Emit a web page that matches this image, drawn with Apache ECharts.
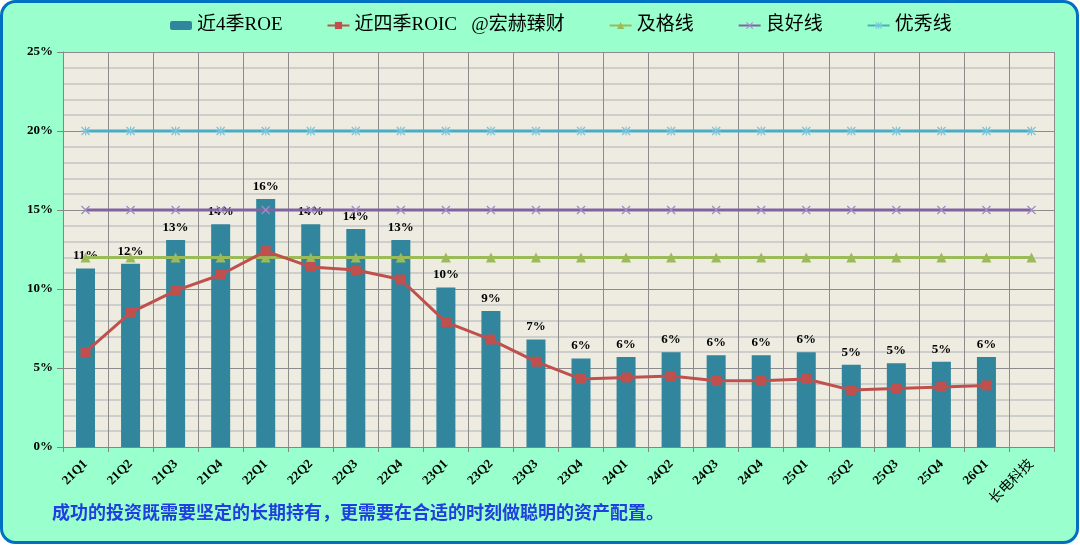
<!DOCTYPE html>
<html>
<head>
<meta charset="utf-8">
<script src="https://cdn.jsdelivr.net/npm/echarts@6/dist/echarts.min.js"></script>
<style>
    html, body { margin: 0; padding: 0; background: #ffffff; }
    #chart { width: 1080px; height: 545px; }
</style>
</head>
<body>
<div id="chart"></div>
<script>
// categories: quarters plus the company name as the last slot
var categories = ["21Q1", "21Q2", "21Q3", "21Q4", "22Q1", "22Q2", "22Q3", "22Q4",
    "23Q1", "23Q2", "23Q3", "23Q4", "24Q1", "24Q2", "24Q3", "24Q4",
    "25Q1", "25Q2", "25Q3", "25Q4", "26Q1", "长电科技"];

// values in percent
var roe = [11.3, 11.6, 13.1, 14.1, 15.7, 14.1, 13.8, 13.1, 10.1, 8.6, 6.8,
    5.6, 5.7, 6.0, 5.8, 5.8, 6.0, 5.2, 5.3, 5.4, 5.7, null];
var roic = [6.0, 8.5, 9.9, 10.9, 12.4, 11.4, 11.2, 10.6, 7.9, 6.8, 5.4,
    4.3, 4.4, 4.5, 4.2, 4.2, 4.3, 3.6, 3.7, 3.8, 3.9, null];
var passLine = 12;
var goodLine = 15;
var excellentLine = 20;

var yTicks = [0, 5, 10, 15, 20, 25];

function flat(v) {
    return categories.map(function () { return v; });
}

var serif = "'Liberation Serif', 'Noto Sans CJK SC', serif";
var xMark = "path://M0,1L1,0L5,4L9,0L10,1L6,5L10,9L9,10L5,6L1,10L0,9L4,5Z";
var starMark = "path://M0,1L1,0L4.4,3.4L4.4,0L5.6,0L5.6,3.4L9,0L10,1L6.4,4.4L10,4.4L10,5.6L6.4,5.6L10,9L9,10L5.6,6.6L5.6,10L4.4,10L4.4,6.6L1,10L0,9L3.6,5.6L0,5.6L0,4.4L3.6,4.4Z";

var option = {
    animation: false,
    backgroundColor: "#ffffff",
    graphic: [
        {
            type: "rect",
            z: -10,
            shape: { x: 1.5, y: 1.5, width: 1076, height: 541, r: 14 },
            style: { fill: "#99FFCC", stroke: "#0070C0", lineWidth: 3 }
        },
        {
            type: "text",
            left: 52,
            top: 505,
            style: {
                text: "成功的投资既需要坚定的长期持有，更需要在合适的时刻做聪明的资产配置。",
                fill: "#1F3FE0",
                font: "bold 18px " + serif
            }
        }
    ],
    legend: {
        top: 11,
        left: 165,
        itemGap: 44,
        itemWidth: 22,
        itemHeight: 9,
        textStyle: { fontFamily: serif, fontSize: 19, color: "#000" },
        data: ["近4季ROE", "近四季ROIC   @宏赫臻财", "及格线", "良好线", "优秀线"]
    },
    grid: { left: 63, right: 26, top: 52, bottom: 98, backgroundColor: "#EEECE1", show: true, borderWidth: 0 },
    xAxis: {
        type: "category",
        data: categories,
        axisLine: { lineStyle: { color: "#868686", width: 1 } },
        axisTick: { show: true, length: 5, lineStyle: { color: "#868686" } },
        splitLine: { show: true, interval: 0, lineStyle: { color: "#8c8c8c", width: 1 } },
        axisLabel: {
            interval: 0,
            rotate: 45,
            margin: 15,
            color: "#000",
            fontFamily: serif,
            fontSize: 13,
            fontWeight: "bold",
            formatter: function (v) {
                return /^\d/.test(v) ? v : "{cn|" + v + "}";
            },
            rich: {
                cn: { fontFamily: serif, fontSize: 14, fontWeight: "normal", color: "#000" }
            }
        }
    },
    yAxis: {
        type: "value",
        min: yTicks[0],
        max: yTicks[yTicks.length - 1],
        interval: 5,
        axisLine: { show: true, lineStyle: { color: "#868686" } },
        axisTick: { show: true, length: 6, lineStyle: { color: "#868686" } },
        axisLabel: {
            formatter: "{value}%",
            color: "#000",
            fontFamily: serif,
            fontSize: 13,
            fontWeight: "bold",
            margin: 10
        },
        splitLine: { show: true, lineStyle: { color: "#8c8c8c", width: 1 } },
        minorTick: { show: false, splitNumber: 5 },
        minorSplitLine: { show: true, lineStyle: { color: "#c4c4c4", width: 1.5 } }
    },
    series: [
        {
            name: "近4季ROE",
            type: "bar",
            data: roe,
            barWidth: 19,
            itemStyle: { color: "#31859C" },
            label: {
                show: true,
                position: "top",
                distance: 6,
                color: "#000",
                fontFamily: serif,
                fontSize: 13,
                fontWeight: "bold",
                formatter: function (p) {
                    return p.value == null ? "" : Math.round(p.value) + "%";
                }
            }
        },
        {
            name: "近四季ROIC   @宏赫臻财",
            type: "line",
            data: roic,
            z: 5,
            symbol: "rect",
            symbolSize: 10,
            lineStyle: { color: "#C0504D", width: 3 },
            itemStyle: { color: "#C0504D" }
        },
        {
            name: "及格线",
            type: "line",
            data: flat(passLine),
            symbol: "triangle",
            symbolSize: 10,
            lineStyle: { color: "#9BBB59", width: 3 },
            itemStyle: { color: "#9BBB59" }
        },
        {
            name: "良好线",
            type: "line",
            data: flat(goodLine),
            symbol: xMark,
            symbolSize: 9,
            lineStyle: { color: "#8064A2", width: 3 },
            itemStyle: { color: "#9F8CC4" }
        },
        {
            name: "优秀线",
            type: "line",
            data: flat(excellentLine),
            symbol: starMark,
            symbolSize: 9,
            lineStyle: { color: "#4BACC6", width: 3 },
            itemStyle: { color: "#7CC3D8" }
        }
    ]
};

var chart = echarts.init(document.getElementById("chart"));
chart.setOption(option);
</script>
</body>
</html>
